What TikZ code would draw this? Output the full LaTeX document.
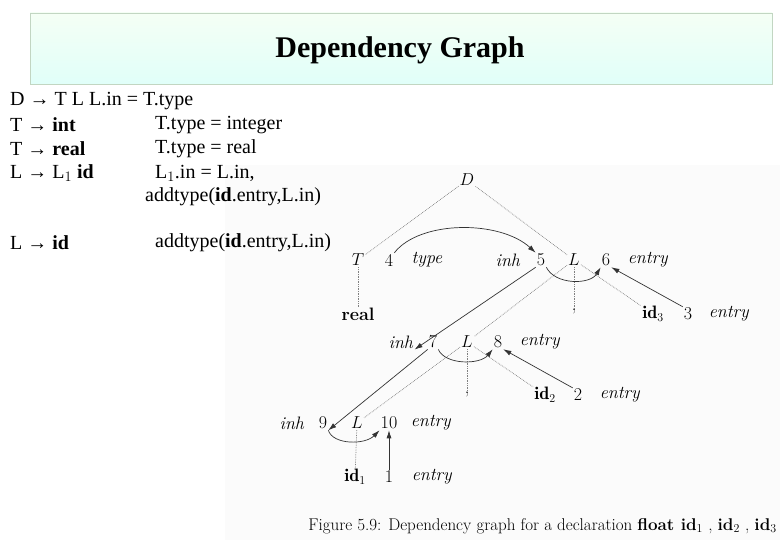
\documentclass[tikz,border=0pt]{standalone}
\usepackage{fontspec}
\newfontfamily\slide{Liberation Serif}
\usetikzlibrary{arrows.meta}
\begin{document}
\begin{tikzpicture}[x=1pt,y=-1pt,
  lt/.style={anchor=west,font=\slide\fontsize{20}{22}\selectfont,inner sep=0},
  g/.style={font=\fontsize{18}{20}\selectfont,inner sep=1pt},
  tree/.style={densely dotted,gray,line width=0.7pt},
  dep/.style={-{Latex[length=8pt,width=5pt]},line width=0.7pt,black!80}]
\useasboundingbox (0,0) rectangle (780,540);
\fill[white] (0,0) rectangle (780,540);
\fill[black!1.5] (225,165) rectangle (780,540);
\shade[top color=green!4!white,bottom color=green!20!cyan!12!white,draw=green!20!gray!40] (30,13) rectangle (772,84);
\node[font=\slide\bfseries\fontsize{30}{34}\selectfont] (title) at (400,50) {Dependency Graph};
% productions
\node[lt] (p1) at (10,101) {D → T L L.in = T.type};
\node[lt] (p2) at (10,125) {T → \textbf{int}};
\node[lt] (r2) at (155,125) {T.type = integer};
\node[lt] (p3) at (10,149) {T → \textbf{real}};
\node[lt] (r3) at (155,149) {T.type = real};
\node[lt] (p4) at (10,173) {L → L$_1$ \textbf{id}};
\node[lt] (r4) at (155,173) {L$_1$.in = L.in,};
\node[lt] (r4b) at (145,197) {addtype(\textbf{id}.entry,L.in)};
\node[lt] (p5) at (10,243) {L → \textbf{id}};
\node[lt] (r5) at (155,243) {addtype(\textbf{id}.entry,L.in)};
% graph
\node[g] (D) at (467,180) {$D$};
\node[g] (T) at (358,260) {$T$};
\node[g] (n4) at (389,260) {4};
\node[g] (ty) at (427,260) {\textit{type}};
\node[g] (ih5) at (508,260) {\textit{inh}};
\node[g] (n5) at (541,260) {5};
\node[g] (L1) at (574,260) {$L$};
\node[g] (n6) at (606,260) {6};
\node[g] (e6) at (648,260) {\textit{entry}};
\node[g] (real) at (358,314) {\textbf{real}};
\node[g] (c1) at (574,312) {,};
\node[g] (id3) at (653,314) {$\mathbf{id}_3$};
\node[g] (n3) at (688,314) {3};
\node[g] (e3) at (729,314) {\textit{entry}};
\node[g] (ih7) at (401,342) {\textit{inh}};
\node[g] (n7) at (433,342) {7};
\node[g] (L2) at (467,342) {$L$};
\node[g] (n8) at (498,342) {8};
\node[g] (e8) at (540,342) {\textit{entry}};
\node[g] (c2) at (467,395) {,};
\node[g] (id2) at (545,395) {$\mathbf{id}_2$};
\node[g] (n2) at (578,395) {2};
\node[g] (e2) at (620,395) {\textit{entry}};
\node[g] (ih9) at (292,423) {\textit{inh}};
\node[g] (n9) at (323,423) {9};
\node[g] (L3) at (357,423) {$L$};
\node[g] (n10) at (389,423) {10};
\node[g] (e10) at (431,423) {\textit{entry}};
\node[g] (id1) at (355,477) {$\mathbf{id}_1$};
\node[g] (n1) at (389,477) {1};
\node[g] (e1) at (432,477) {\textit{entry}};
\node[font=\fontsize{17}{19}\selectfont,anchor=east,inner sep=0] (cap) at (777,526) {Figure 5.9: Dependency graph for a declaration \textbf{float id}$_1$ , \textbf{id}$_2$ , \textbf{id}$_3$};
% tree
\draw[tree] (D) -- (T);
\draw[tree] (D) -- (L1);
\draw[tree] (T) -- (real);
\draw[tree] (L1) -- (c1);
\draw[tree] (L1) -- (id3);
\draw[tree] (L1) -- (L2);
\draw[tree] (L2) -- (c2);
\draw[tree] (L2) -- (id2);
\draw[tree] (L2) -- (L3);
\draw[tree] (L3) -- (id1);
% dependencies
\draw[dep] (n4.north east) .. controls (420,220) and (500,220) .. (n5.north west);
\draw[dep] (n5.south east) .. controls (555,285) and (590,285) .. (n6.south west);
\draw[dep] (n3.north west) -- (n6.south east);
\draw[dep] (n5.south west) -- (ih7.south east);
\draw[dep] (n7.south east) .. controls (445,365) and (480,365) .. (n8.south west);
\draw[dep] (n2.north west) -- (n8.south east);
\draw[dep] (n7.south west) -- (n9.south east);
\draw[dep] (n9.south east) .. controls (333,445) and (365,445) .. (n10.south west);
\draw[dep] (n1.north) -- (n10.south);
\end{tikzpicture}
\end{document}
